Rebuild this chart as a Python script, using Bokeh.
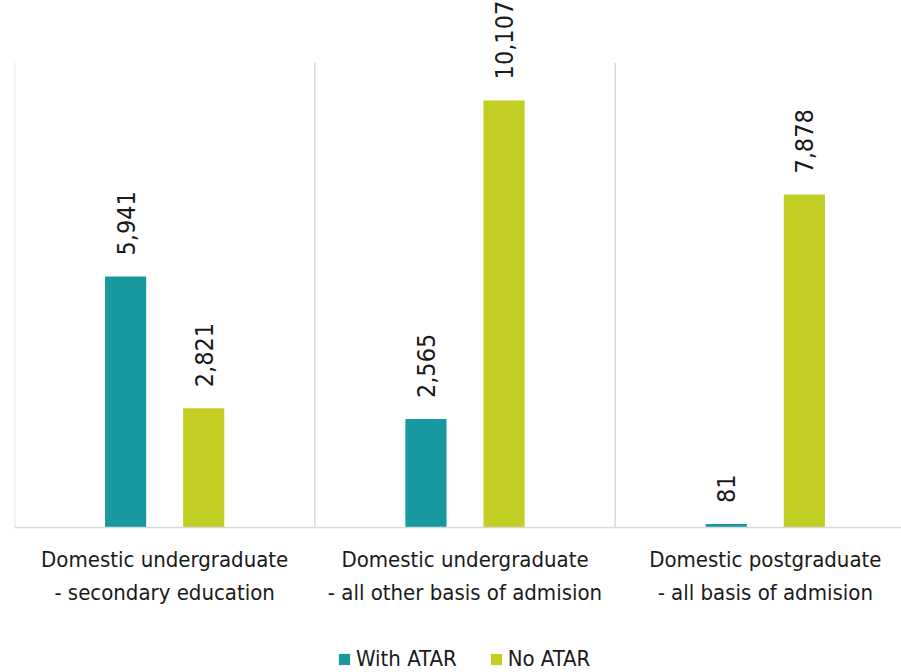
import numpy as np
from bokeh.plotting import figure
from bokeh.models import Range1d, Legend, LegendItem, Span
from bokeh.core.properties import value
from bokeh.embed import file_html
from bokeh.resources import INLINE

# ---- data ----
categories = [
    "Domestic undergraduate\n- secondary education",
    "Domestic undergraduate\n- all other basis of admision",
    "Domestic postgraduate\n- all basis of admision",
]
series = ["With ATAR", "No ATAR"]
with_atar = [5941, 2565, 81]
no_atar = [2821, 10107, 7878]
colors = ["#18999F", "#C2CE24"]

FONT = "'DejaVu Sans Condensed', Roboto"
W, H = 901, 672

p = figure(width=W, height=H, output_backend="svg", toolbar_location=None,
           x_range=Range1d(0, 2.9534), y_range=Range1d(-3432, 12472),
           min_border_left=14, min_border_right=0, min_border_top=0,
           min_border_bottom=0)

idx = np.arange(len(categories))
centers = idx + 0.5
offset = 0.13
bw = 0.137

# category separators
seps = list(np.arange(len(categories) + 1))
p.segment(x0=seps, y0=[0] * len(seps), x1=seps, y1=[11000] * len(seps),
          line_color="#d9d9d9", line_width=1.5)
# baseline
p.add_layout(Span(location=0, dimension="width", line_color="#d9d9d9", line_width=1.5))

renderers = []
for s, vals, col, off in zip(series, [with_atar, no_atar], colors, [-offset, offset]):
    xs = list(centers + off)
    r = p.vbar(x=xs, top=vals, width=bw, bottom=0, fill_color=col, line_color=None)
    renderers.append(r)
    p.text(x=xs, y=vals, text=[f"{v:,}" for v in vals], angle=np.pi / 2,
           y_offset=-21, text_align="left", text_baseline="middle",
           text_font=value(FONT), text_font_size="25px", text_color="#1a1a1a")

# category labels
p.text(x=list(centers), y=[0] * len(categories), text=categories,
       y_offset=20, text_align="center", text_baseline="top",
       text_line_height=1.3,
       text_font=value(FONT), text_font_size="22px", text_color="#1a1a1a")

p.axis.visible = False
p.xgrid.visible = False
p.ygrid.visible = False
p.outline_line_color = None

legend = Legend(items=[LegendItem(label=s, renderers=[r]) for s, r in zip(series, renderers)],
                orientation="horizontal", location=(323, 1),
                glyph_width=14, glyph_height=14, label_standoff=5, spacing=32,
                padding=0, margin=0, border_line_color=None, background_fill_alpha=0,
                label_text_font=FONT, label_text_font_size="22px",
                label_text_color="#1a1a1a")
p.add_layout(legend)

open("out.html", "w").write(file_html(p, INLINE))
